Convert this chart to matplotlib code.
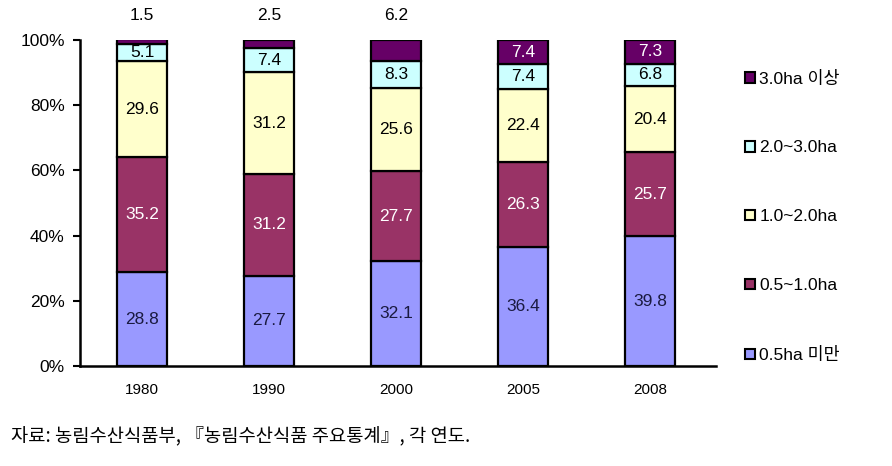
import matplotlib.pyplot as plt
from matplotlib.patches import Patch
import numpy as np

plt.rcParams['font.family'] = ['Liberation Sans', 'Noto Sans CJK KR', 'DejaVu Sans']

years = ['1980', '1990', '2000', '2005', '2008']
series_names = ['0.5ha 미만', '0.5~1.0ha', '1.0~2.0ha', '2.0~3.0ha', '3.0ha 이상']
under_05 = [28.8, 27.7, 32.1, 36.4, 39.8]
from_05_10 = [35.2, 31.2, 27.7, 26.3, 25.7]
from_10_20 = [29.6, 31.2, 25.6, 22.4, 20.4]
from_20_30 = [5.1, 7.4, 8.3, 7.4, 6.8]
over_30 = [1.5, 2.5, 6.2, 7.4, 7.3]

colors = ['#9999FF', '#993366', '#FFFFCC', '#CCFFFF', '#660066']
text_colors = ['#1a1a40', 'white', 'black', 'black', 'white']

data = np.array([under_05, from_05_10, from_10_20, from_20_30, over_30])
x = np.arange(len(years))

fig = plt.figure(figsize=(8.92, 4.66), dpi=100)
ax = fig.add_axes([0.0897, 0.2146, 0.7130, 0.6996])

bottom = np.zeros(len(years))
for i in range(len(data)):
    ax.bar(x, data[i], 0.39, bottom=bottom, color=colors[i],
           edgecolor='black', linewidth=1.6, zorder=3)
    for j in range(len(years)):
        v = data[i][j]
        if i == 4 and v < 7:
            # small top segments labelled above the bar
            ax.text(x[j], 107.5, f'{v:.1f}', ha='center', va='center',
                    fontsize=12.5, color='black', clip_on=False)
        else:
            ax.text(x[j], bottom[j] + v / 2, f'{v:.1f}', ha='center', va='center',
                    fontsize=12.5, color=text_colors[i], zorder=4)
    bottom += data[i]

ax.set_xlim(-0.49, 4.52)
ax.set_ylim(0, 100)
ax.set_yticks([0, 20, 40, 60, 80, 100])
ax.set_yticklabels(['0%', '20%', '40%', '60%', '80%', '100%'], fontsize=12.5)
ax.set_xticks(x)
ax.set_xticklabels(years, fontsize=11)
ax.tick_params(axis='x', length=0, pad=12)
ax.tick_params(axis='y', direction='out', length=5, width=1.5, pad=6)
for s in ['top', 'right']:
    ax.spines[s].set_visible(False)
ax.spines['left'].set_linewidth(1.8)
ax.spines['bottom'].set_linewidth(1.8)

handles = [Patch(facecolor=colors[i], edgecolor='black', linewidth=1.5) for i in range(5)][::-1]
ax.legend(handles, series_names[::-1], loc='upper left', bbox_to_anchor=(0.818, 0.882),
          bbox_transform=fig.transFigure, frameon=False, fontsize=12.5,
          handlelength=0.55, handleheight=0.55, handletextpad=0.25, labelspacing=3.1)

fig.text(0.012, 0.05, '자료: 농림수산식품부, 『농림수산식품 주요통계』, 각 연도.',
         fontsize=13.5, family=['Noto Sans CJK KR', 'DejaVu Sans'])

fig.savefig('out.png', dpi=100)
